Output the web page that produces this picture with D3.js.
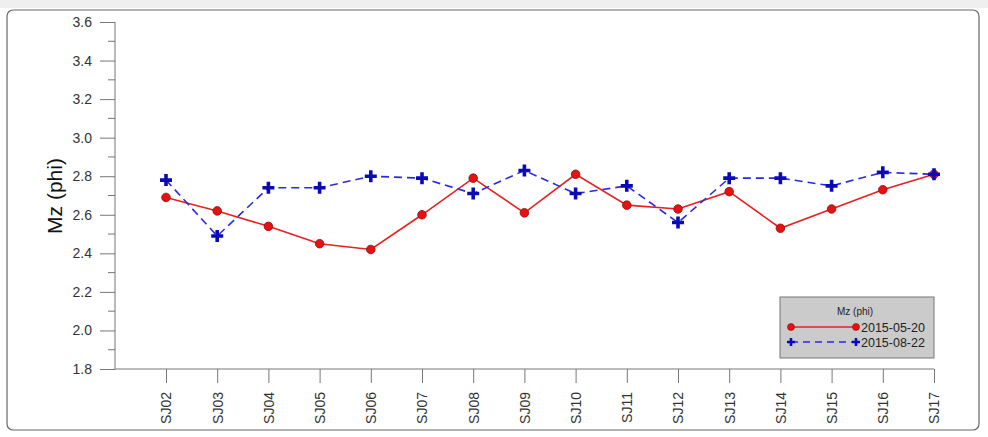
<!DOCTYPE html>
<html><head><meta charset="utf-8">
<script src="https://cdn.jsdelivr.net/npm/d3@7"></script>
<style>body{margin:0;background:#fff}svg{display:block;font-family:Arial,"Liberation Sans",sans-serif}</style>
</head><body><svg id="c" width="988" height="437"></svg>
<script>
const categories = ["SJ02","SJ03","SJ04","SJ05","SJ06","SJ07","SJ08","SJ09","SJ10","SJ11","SJ12","SJ13","SJ14","SJ15","SJ16","SJ17"];
const may20 = [2.69,2.62,2.54,2.45,2.42,2.60,2.79,2.61,2.81,2.65,2.63,2.72,2.53,2.63,2.73,2.81];
const aug22 = [2.78,2.49,2.74,2.74,2.80,2.79,2.71,2.83,2.71,2.75,2.56,2.79,2.79,2.75,2.82,2.81];
const yTicks = [1.8,2.0,2.2,2.4,2.6,2.8,3.0,3.2,3.4,3.6];
const seriesNames = ["2015-05-20","2015-08-22"];
const yTitle = "Mz (phi)";

const svg = d3.select("#c");
// frame
svg.append("rect").attr("x",0).attr("y",0).attr("width",988).attr("height",8).attr("fill","#efefef");
svg.append("rect").attr("x",7).attr("y",10).attr("width",972).attr("height",420).attr("rx",6)
  .attr("fill","#fff").attr("stroke","#666").attr("stroke-width",1.2);

const x = d3.scalePoint().domain(categories).range([166,934]);
const y = d3.scaleLinear().domain([1.8,3.6]).range([369,22]);
const axisCol = "#777";

// y axis
const ya = svg.append("g").attr("transform","translate(115,0)")
  .call(d3.axisLeft(y).tickValues(yTicks).tickFormat(d3.format(".1f")).tickSize(15).tickPadding(8));
ya.select(".domain").attr("stroke",axisCol).attr("d","M0,22V369");
ya.selectAll(".tick line").attr("stroke",axisCol);
ya.selectAll(".tick text").attr("fill","#333").attr("font-size",14).attr("font-family","Arial,'Liberation Sans',sans-serif");
const minor = d3.range(0,9).map(i=>1.9+i*0.2);
svg.append("g").selectAll("line").data(minor).join("line")
  .attr("x1",108).attr("x2",115).attr("y1",d=>y(d)).attr("y2",d=>y(d)).attr("stroke",axisCol);

// x axis
const xa = svg.append("g").attr("transform","translate(0,369)")
  .call(d3.axisBottom(x).tickSize(14).tickPadding(4));
xa.select(".domain").attr("stroke",axisCol).attr("d","M115,0H934");
xa.selectAll(".tick line").attr("stroke",axisCol);
xa.selectAll(".tick text").attr("fill","#333").attr("font-size",14)
  .attr("font-family","Arial,'Liberation Sans',sans-serif")
  .attr("transform","translate(0,23) rotate(-90)").attr("text-anchor","end").attr("dy","0.35em").attr("y",0).attr("x",0);

// y title
svg.append("text").attr("transform","translate(62,196) rotate(-90)").attr("text-anchor","middle")
  .attr("font-size",21).attr("fill","#111").text(yTitle);

// lines
const lineGen = d3.line().x((d,i)=>x(categories[i])).y(d=>y(d));
svg.append("path").datum(may20).attr("d",lineGen).attr("fill","none").attr("stroke","#e8201e").attr("stroke-width",1.6);
svg.append("path").datum(aug22).attr("d",lineGen).attr("fill","none").attr("stroke","#2a2ae0").attr("stroke-width",1.6).attr("stroke-dasharray","8,5");

svg.append("g").selectAll("circle").data(may20).join("circle")
  .attr("cx",(d,i)=>x(categories[i])).attr("cy",d=>y(d)).attr("r",4.3)
  .attr("fill","#e81010").attr("stroke","#8a1010").attr("stroke-width",0.8);
const plus = "M-6,0H6M0,-6V6";
svg.append("g").selectAll("path").data(aug22).join("path")
  .attr("transform",(d,i)=>`translate(${x(categories[i])},${y(d)})`).attr("d",plus)
  .attr("stroke","#0a0ab8").attr("stroke-width",3.6).attr("fill","none");

// legend
const lg = svg.append("g");
lg.append("rect").attr("x",780).attr("y",297).attr("width",154).attr("height",61)
  .attr("fill","#cbcbcb").attr("stroke","#777").attr("stroke-width",1);
lg.append("text").attr("x",855).attr("y",315).attr("text-anchor","middle").attr("font-size",10).attr("fill","#222").text(yTitle);
lg.append("line").attr("x1",791).attr("x2",856).attr("y1",327).attr("y2",327).attr("stroke","#e8201e").attr("stroke-width",1.6);
lg.selectAll("circle.l").data([791,856]).join("circle").attr("cx",d=>d).attr("cy",327).attr("r",3.5).attr("fill","#e81010").attr("stroke","#8a1010").attr("stroke-width",0.6);
lg.append("line").attr("x1",791).attr("x2",856).attr("y1",342).attr("y2",342).attr("stroke","#2a2ae0").attr("stroke-width",1.6).attr("stroke-dasharray","7,5");
lg.selectAll("path.l").data([791,856]).join("path").attr("transform",d=>`translate(${d},342)`).attr("d","M-4,0H4M0,-4V4").attr("stroke","#0a0ab8").attr("stroke-width",2.6);
lg.append("text").attr("x",861).attr("y",331.5).attr("font-size",12.5).attr("fill","#222").text(seriesNames[0]);
lg.append("text").attr("x",861).attr("y",346.5).attr("font-size",12.5).attr("fill","#222").text(seriesNames[1]);
</script></body></html>
